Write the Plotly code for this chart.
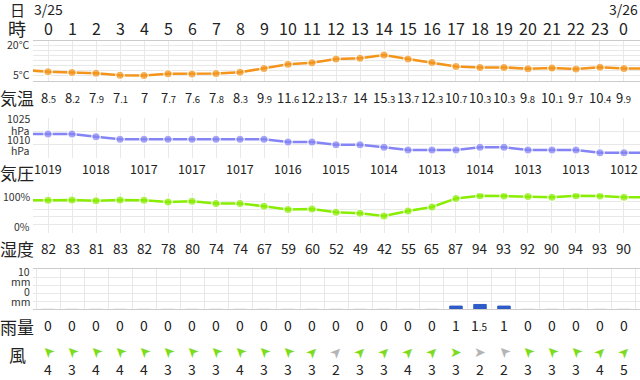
import plotly.graph_objects as go

# ---------------- data ----------------
hours = list(range(25))
hour_labels = ["0", "1", "2", "3", "4", "5", "6", "7", "8", "9", "10", "11", "12",
               "13", "14", "15", "16", "17", "18", "19", "20", "21", "22", "23", "0"]
date_labels = ["3/25", "3/26"]
date_hours = [0, 24]

temps = [8.5, 8.2, 7.9, 7.1, 7, 7.7, 7.6, 7.8, 8.3, 9.9, 11.6, 12.2, 13.7, 14,
         15.3, 13.7, 12.3, 10.7, 10.3, 10.3, 9.8, 10.1, 9.7, 10.4, 9.9]
temp_before, temp_after = 9.3, 9.9

pressure = [1019, 1019, 1018, 1017, 1017, 1017, 1017, 1017, 1017, 1017, 1016, 1016,
            1015, 1015, 1014, 1013, 1013, 1013, 1014, 1014, 1013, 1013, 1013, 1012, 1012]
pressure_before, pressure_after = 1019, 1012

humidity = [82, 83, 81, 83, 82, 78, 80, 74, 74, 67, 59, 60, 52, 49, 42, 55, 65,
            87, 94, 93, 92, 90, 94, 93, 90]
humidity_before, humidity_after = 83, 90

rain = [0, 0, 0, 0, 0, 0, 0, 0, 0, 0, 0, 0, 0, 0, 0, 0, 0, 1, 1.5, 1, 0, 0, 0, 0, 0]

wind_speed = [4, 3, 4, 4, 4, 3, 3, 3, 4, 3, 3, 3, 2, 3, 3, 4, 3, 3, 2, 2, 3, 3, 3, 4, 5]
# direction the arrow points, compass degrees (0 = up, 90 = right)
wind_angle = [-45, -45, -45, -45, -45, -45, -45, -45, -45, -45, -45, 45,
              45, 45, 45, 45, 45, 90, 90, -45, -45, -45, -45, 45, 45]

row_labels = ["日", "時", "気温", "気圧", "湿度", "雨量", "風"]

# ---------------- styling ----------------
W, H = 640, 380
FONT = "Noto Sans CJK JP"
TXT = "#222222"
GRID = "#e8e8e8"
EDGE = "#cccccc"
C_TEMP = "#f4941a"
C_PRES = "#8484f6"
C_HUM = "#88ee00"
C_RAIN = "#2d5bc7"
C_WIND = "#7ddc1f"
C_WIND_LIGHT = "#b4b4b4"


def yp(px):
    return 1 - px / H


XR = [-0.625, 24.667]
XDOM = [33 / W, 1.0]

fig = go.Figure()


def line_trace(vals, before, after, color, yaxis):
    xs = [-1] + hours + [25]
    ys = [before] + vals + [after]
    n = len(hours)
    return go.Scatter(
        x=xs, y=ys, xaxis="x", yaxis=yaxis, mode="lines+markers",
        line=dict(color=color, width=2.5),
        marker=dict(color=color, size=[0] + [8.5] * n + [0],
                    line=dict(color="white", width=[0] + [1.5] * n + [0])),
        hoverinfo="skip", showlegend=False)


fig.add_trace(line_trace(temps, temp_before, temp_after, C_TEMP, "y"))
fig.add_trace(line_trace(pressure, pressure_before, pressure_after, C_PRES, "y2"))
fig.add_trace(line_trace(humidity, humidity_before, humidity_after, C_HUM, "y3"))

fig.add_trace(go.Bar(
    x=hours, y=rain, xaxis="x4", yaxis="y4", width=0.52,
    marker=dict(color=[C_RAIN if r > 0 else "#d8d8d8" for r in rain],
                line=dict(color=[C_RAIN if r > 0 else "#d8d8d8" for r in rain], width=1)),
    hoverinfo="skip", showlegend=False))

xcommon = dict(range=XR, domain=XDOM, showticklabels=False, ticks="",
               showgrid=True, gridcolor=GRID, gridwidth=1, zeroline=False,
               showline=True, mirror=True, linecolor=EDGE, linewidth=1,
               tickmode="linear", tick0=0, dtick=1)
ycommon = dict(showticklabels=False, ticks="", showgrid=True, gridcolor=GRID,
               zeroline=False, showline=False, tickmode="linear")

fig.update_layout(
    width=W, height=H, margin=dict(l=0, r=0, t=0, b=0),
    paper_bgcolor="white", plot_bgcolor="white", bargap=0,
    font=dict(family=FONT, color=TXT),
    xaxis=dict(anchor="y", **xcommon),
    xaxis2=dict(anchor="y2", **xcommon),
    xaxis3=dict(anchor="y3", **xcommon),
    xaxis4=dict(anchor="y4", **{**xcommon, "tick0": 0.5}),
    yaxis=dict(anchor="x", domain=[yp(80.5), yp(41)], range=[5, 21], tick0=5, dtick=2, **ycommon),
    yaxis2=dict(anchor="x2", domain=[yp(158), yp(118)], range=[1010, 1025], tick0=1010, dtick=5, **ycommon),
    yaxis3=dict(anchor="x3", domain=[yp(232.6), yp(193.3)], range=[0, 100], tick0=0, dtick=20, **ycommon),
    yaxis4=dict(anchor="x4", domain=[yp(309.3), yp(269)], range=[0, 12.5], tick0=0, dtick=2.5, **ycommon),
)

ann = []


def add_text(x, ypx, text, size, xref="x", xanchor="center", color=TXT, angle=0, family=FONT):
    ann.append(dict(x=x, y=yp(ypx), xref=xref, yref="paper", text=text,
                    showarrow=False, xanchor=xanchor, yanchor="middle", textangle=angle,
                    borderpad=0,
                    font=dict(family=family, size=size, color=color)))


def small_dec(v, small):
    s = f"{v:g}"
    if "." in s:
        a, b = s.split(".")
        return f"{a}<span style='font-size:{small}px'>.{b}</span>"
    return s


# row labels
label_y = [10, 28, 97, 172, 248, 326, 354]
label_size = [15, 18, 17, 17, 17, 17, 17]
for t, y, s in zip(row_labels, label_y, label_size):
    add_text(17 / W, y, t, s, xref="paper")

# dates
for d, h in zip(date_labels, date_hours):
    add_text(h, 9, d, 14)

# hours
for h, t in zip(hours, hour_labels):
    add_text(h, 28, t, 16)

# temperature values
for h, v in zip(hours, temps):
    add_text(h, 97, small_dec(v, 9.5), 13)

# pressure values (every 2 hours)
for h, v in zip(hours[::2], pressure[::2]):
    add_text(h, 169, str(v), 12.5)

# humidity values
for h, v in zip(hours, humidity):
    add_text(h, 248, str(v), 13.5)

# rain values
for h, v in zip(hours, rain):
    add_text(h, 325, small_dec(v, 10), 14)

# wind arrows (arrowhead glyph rotated to the wind direction)
for h, a, s in zip(hours, wind_angle, wind_speed):
    add_text(h, 352, "➤", 14, color=C_WIND if s > 2 else C_WIND_LIGHT,
             angle=a - 90, family="DejaVu Sans")

# wind speeds
for h, v in zip(hours, wind_speed):
    add_text(h, 369, str(v), 14)

# axis captions
AX = 31 / W
for txt, y in [("20°C", 44.5), ("5°C", 74.5),
               ("1025", 118.7), ("hPa", 130.3), ("1010", 139.5), ("hPa", 150.3),
               ("100%", 196.5), ("0%", 226.5),
               ("10", 271.5), ("mm", 281.5), ("0", 291.5), ("mm", 301.5)]:
    add_text(AX, y, txt, 10.5, xref="paper", xanchor="right", color="#333333")

fig.update_layout(annotations=ann)
fig.write_html(
    "out.html",
    config={"displayModeBar": False, "staticPlot": True},
    post_script="document.body.style.margin='0';document.body.style.overflow='hidden';",
)
